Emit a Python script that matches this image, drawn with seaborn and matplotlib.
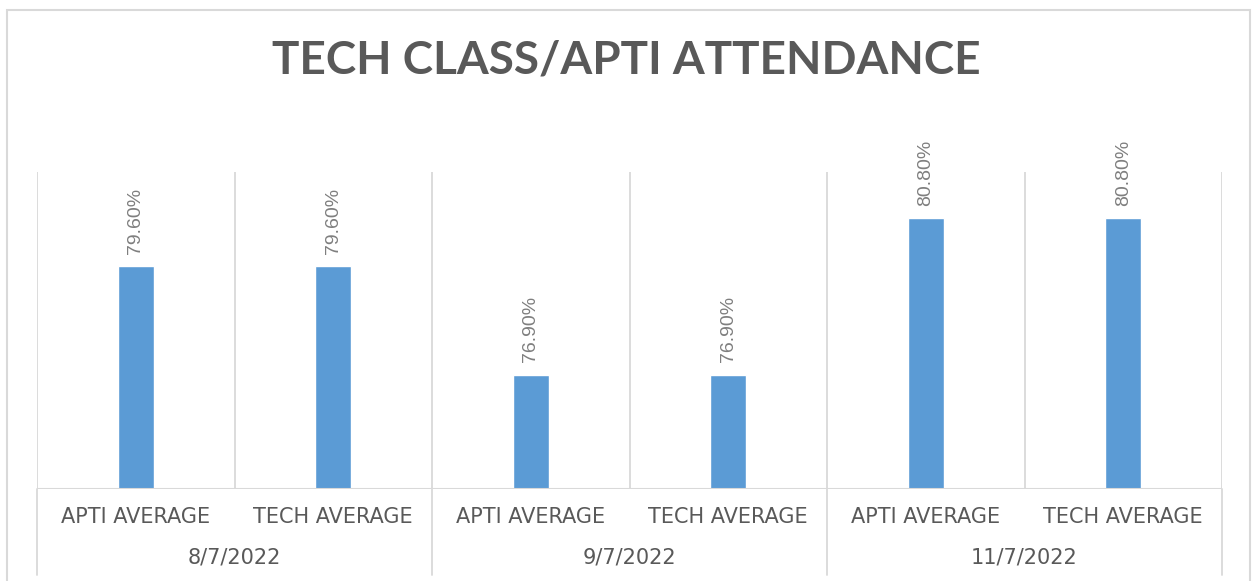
import pandas as pd
import matplotlib.pyplot as plt
import matplotlib.transforms as mtransforms
from matplotlib.patches import Rectangle
import seaborn as sns

# dati
dates = ["8/7/2022", "9/7/2022", "11/7/2022"]
items = ["APTI AVERAGE", "TECH AVERAGE"]
attendance = [79.6, 79.6, 76.9, 76.9, 80.8, 80.8]

BAR_COLOR = "#5B9BD5"
GRID_COLOR = "#d9d9d9"
TEXT_COLOR = "#595959"


def build_frame():
    rows = []
    for i, d in enumerate(dates):
        for j, it in enumerate(items):
            rows.append({"slot": i * len(items) + j, "date": d, "item": it,
                         "value": attendance[i * len(items) + j]})
    return pd.DataFrame(rows)


def main():
    df = build_frame()
    sns.set_theme(style="white")
    plt.rcParams['font.family'] = ['DejaVu Sans']

    fig = plt.figure(figsize=(12.52, 5.81), dpi=100)
    ax = fig.add_axes([37 / 1252, 1 - 489 / 581, (1222 - 37) / 1252, (489 - 172) / 581])

    sns.barplot(data=df, x="slot", y="value", color=BAR_COLOR, width=0.18,
                saturation=1, ax=ax, zorder=3)

    n = len(df)
    ax.set_xlim(-0.5, n - 0.5)
    ax.set_ylim(74.05, 81.95)
    ax.set_yticks([])
    ax.set_xlabel("")
    ax.set_ylabel("")
    for s in ax.spines.values():
        s.set_visible(False)

    # etichette dei valori
    for cont in ax.containers:
        ax.bar_label(cont, labels=[f"{v:.2f}%" for v in df["value"]], rotation=90,
                     padding=9, color="#7f7f7f", fontsize=14,
                     family=["Liberation Sans", "DejaVu Sans"])

    # griglia verticale e linea di base
    for k in range(n + 1):
        ax.axvline(k - 0.5, color=GRID_COLOR, lw=1.3, zorder=1)
    ax.axhline(74.05, color=GRID_COLOR, lw=1.5, zorder=4)

    trans = mtransforms.blended_transform_factory(ax.transData, ax.transAxes)
    for g in range(len(dates) + 1):
        x = g * len(items) - 0.5
        ax.plot([x, x], [0, -0.27], color=GRID_COLOR, lw=1.3, transform=trans,
                clip_on=False)

    # etichette asse x su due livelli
    ax.set_xticks(range(n))
    ax.set_xticklabels(list(df["item"]), color=TEXT_COLOR, fontsize=15)
    ax.tick_params(axis="x", length=0, pad=13)
    for g, d in enumerate(dates):
        xc = g * len(items) + (len(items) - 1) / 2
        ax.text(xc, -0.215, d, transform=trans, ha="center", va="center",
                color=TEXT_COLOR, fontsize=15)

    fig.text(0.5, 1 - 60 / 581, "TECH CLASS/APTI ATTENDANCE", ha="center",
             va="center", fontsize=33, fontweight="bold", color=TEXT_COLOR,
             family=["Lato", "DejaVu Sans"])

    # bordo del grafico
    fig.patches.append(Rectangle((7 / 1252, -0.05), (1250 - 7) / 1252, 1.05 - 10 / 581,
                                 transform=fig.transFigure, fill=False,
                                 edgecolor=GRID_COLOR, lw=1.5))

    fig.savefig("out.png", dpi=100)
    plt.close(fig)


if __name__ == "__main__":
    main()
